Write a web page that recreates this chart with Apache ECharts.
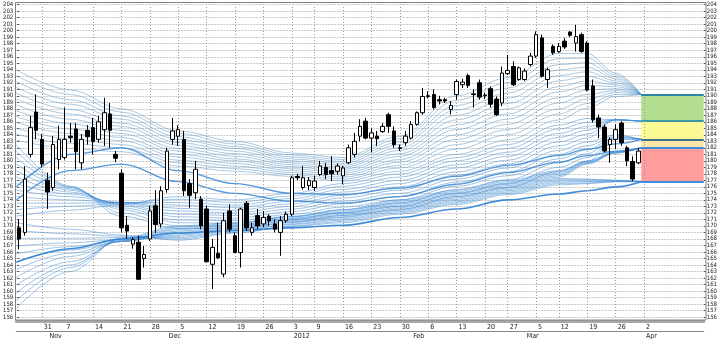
<!DOCTYPE html>
<html><head><meta charset="utf-8">
<script src="https://cdn.jsdelivr.net/npm/echarts@6/dist/echarts.min.js"></script>
<style>html,body{margin:0;padding:0;background:#fff}#c{width:720px;height:340px}</style>
</head><body><div id="c"></div>
<script>
// ---- categories (trading days) ----
const dates = [
'2011-10-25','2011-10-26','2011-10-27','2011-10-28','2011-10-31','2011-11-01','2011-11-02','2011-11-03',
'2011-11-07','2011-11-08','2011-11-09','2011-11-10','2011-11-11',
'2011-11-14','2011-11-15','2011-11-16','2011-11-17','2011-11-18',
'2011-11-21','2011-11-22','2011-11-23','2011-11-24','2011-11-25',
'2011-11-28','2011-11-29','2011-11-30','2011-12-01','2011-12-02',
'2011-12-05','2011-12-06','2011-12-07','2011-12-08','2011-12-09',
'2011-12-12','2011-12-13','2011-12-14','2011-12-15','2011-12-16',
'2011-12-19','2011-12-20','2011-12-21','2011-12-22','2011-12-23',
'2011-12-26','2011-12-27','2011-12-28','2011-12-29','2011-12-30',
'2012-01-03','2012-01-04','2012-01-05','2012-01-06',
'2012-01-09','2012-01-10','2012-01-11','2012-01-12','2012-01-13',
'2012-01-16','2012-01-17','2012-01-18','2012-01-19','2012-01-20',
'2012-01-23','2012-01-24','2012-01-25','2012-01-26','2012-01-27',
'2012-01-30','2012-01-31','2012-02-01','2012-02-02','2012-02-03',
'2012-02-06','2012-02-07','2012-02-08','2012-02-09','2012-02-10',
'2012-02-13','2012-02-14','2012-02-15','2012-02-16','2012-02-17',
'2012-02-20','2012-02-21','2012-02-22','2012-02-23',
'2012-02-27','2012-02-28','2012-02-29','2012-03-01','2012-03-02',
'2012-03-05','2012-03-06','2012-03-07','2012-03-08',
'2012-03-12','2012-03-13','2012-03-14','2012-03-15','2012-03-16',
'2012-03-19','2012-03-20','2012-03-21','2012-03-22','2012-03-23',
'2012-03-26','2012-03-27','2012-03-28','2012-03-29','2012-03-30',
'2012-04-02','2012-04-03','2012-04-04','2012-04-05','2012-04-06',
'2012-04-09','2012-04-10','2012-04-11','2012-04-12','2012-04-13','2012-04-16'];

// ---- candles ----
const opens  = [169.7,169.0,181.0,187.5,183.3,177.0,175.9,180.2,180.5,183.8,184.9,179.7,184.7,185.1,183.3,184.8,187.2,181.0,178.1,170.1,167.2,167.5,165.0,168.0,173.1,170.3,175.6,183.3,183.8,183.3,176.5,175.1,174.1,172.6,164.1,165.8,162.6,172.3,168.5,165.9,173.5,169.0,171.6,170.3,171.5,170.3,169.0,170.8,171.8,177.6,175.9,176.2,175.9,177.9,179.0,178.5,178.4,177.7,179.7,181.0,183.8,186.1,183.5,183.8,184.5,187.1,184.6,182.0,182.8,183.5,185.6,187.4,190.0,190.2,189.4,189.4,187.9,190.2,191.7,193.1,190.3,192.0,190.1,191.1,189.5,188.9,193.4,194.5,192.5,192.5,194.8,196.1,198.9,192.5,197.6,196.8,198.4,199.8,198.1,199.4,198.1,191.5,186.6,185.2,182.5,183.3,185.8,182.0,179.9,179.7];
const closes = [168.0,177.2,185.1,184.7,179.5,175.2,182.5,183.3,183.3,183.6,181.4,183.3,183.7,183.0,186.0,187.4,184.7,180.4,169.7,169.2,167.9,161.8,165.6,172.3,170.2,175.4,181.5,184.6,184.8,175.4,174.7,178.7,170.0,164.5,166.7,165.1,170.8,169.5,165.9,172.6,169.7,169.7,170.0,171.3,170.8,169.5,170.8,171.8,177.4,177.4,177.4,177.0,176.9,179.2,177.9,178.0,179.2,178.9,182.0,183.0,185.3,183.5,184.3,183.4,185.3,185.3,182.5,181.9,183.8,185.6,187.4,189.9,189.9,188.2,189.2,189.2,188.5,192.2,192.1,191.6,190.2,189.8,190.0,188.7,187.1,193.5,193.9,191.7,194.3,193.8,196.1,199.4,193.0,194.0,196.6,197.6,197.5,199.3,199.1,196.8,190.9,186.3,185.2,181.5,183.3,184.8,182.8,180.0,177.2,181.5];
const lows   = [166.4,168.5,180.5,183.3,179.0,172.6,175.4,178.7,180.2,182.8,178.7,178.7,182.5,181.0,182.8,182.3,182.0,179.8,169.0,168.0,166.5,161.8,163.6,167.7,168.9,169.7,175.1,182.5,182.3,174.6,172.8,174.1,169.5,164.4,160.3,164.9,162.1,169.0,165.9,163.6,169.2,168.5,169.5,169.8,170.0,169.0,165.4,170.5,171.5,177.0,175.6,175.5,175.4,177.7,177.2,176.9,177.9,176.4,179.5,180.5,183.0,183.3,181.3,182.3,184.3,184.3,182.0,181.5,182.3,183.3,185.4,187.1,189.6,187.9,188.7,188.9,187.1,189.4,191.2,191.2,188.2,189.4,189.5,188.2,186.9,188.4,193.2,191.5,192.3,192.3,194.5,195.8,192.8,191.2,196.3,196.6,197.2,199.0,196.8,196.6,190.7,185.9,183.5,181.3,179.7,181.8,182.3,179.2,176.9,179.5];
const highs  = [171.0,179.2,186.9,190.2,184.1,178.2,183.8,185.4,188.2,185.8,185.8,184.1,185.5,186.6,186.9,189.7,188.9,181.5,178.7,171.5,168.3,168.5,166.9,173.1,175.5,176.1,182.0,186.6,185.5,184.6,177.2,180.0,174.6,173.1,168.0,170.5,172.0,173.3,169.0,172.8,173.8,170.5,172.6,172.3,171.8,171.0,171.5,172.2,177.7,178.0,179.2,177.5,177.7,180.0,179.7,180.7,179.6,179.2,182.5,184.3,186.4,186.6,185.0,184.6,185.8,187.4,185.3,182.5,184.6,186.1,187.6,191.2,190.7,191.0,190.0,189.7,189.2,192.5,192.6,193.4,191.0,192.5,190.5,191.4,189.9,194.5,196.3,195.3,194.5,194.2,196.6,199.9,199.4,194.3,197.9,198.1,198.9,199.9,200.9,199.7,198.4,192.5,187.1,185.6,183.6,185.6,186.1,182.3,180.7,182.0];

// ---- axis ticks ----
const weekTickIdx = [4,8,13,18,23,28,33,38,43,48,52,57,62,67,72,77,82,86,91,95,100,105,110];
const weekTickLabels = ['31','7','14','21','28','5','12','19','26','3','9','16','23','30','6','13','20','27','5','12','19','26','2'];
const monthTickIdx = [5,26,48,69,89,110];
const monthLabels = ['Nov','Dec','2012','Feb','Mar','Apr'];

// ---- fan lines (values read at these day positions) ----
const fanCols = [-0.5,9,18,28,38,48,57,67,77,86,95,100,105,109.5];
const fanTop = [
[194.0,190.9,188.0,184.6,183.0,181.2,180.5,183.8,190.0,192.8,196.5,196.5,193.5,190.2],
[193.1,190.2,187.5,184.2,182.6,180.9,180.2,183.4,189.3,192.0,195.7,195.8,193.2,190.2],
[192.2,189.4,186.9,183.7,182.2,180.6,179.9,182.9,188.5,191.2,194.8,195.1,192.9,190.2],
[191.3,188.7,186.4,183.3,181.9,180.3,179.6,182.5,187.8,190.4,194.0,194.4,192.6,190.2],
[190.4,187.9,185.8,182.8,181.5,180.0,179.3,182.0,187.0,189.6,193.1,193.7,192.3,190.2],
[189.5,187.2,185.3,182.4,181.1,179.7,179.0,181.6,186.3,188.8,192.3,193.0,192.0,190.2],
[188.6,186.4,184.7,181.9,180.7,179.4,178.7,181.1,185.5,188.0,191.4,192.3,191.7,190.2],
[187.7,185.7,184.2,181.5,180.3,179.1,178.4,180.7,184.8,187.2,190.6,191.6,191.4,190.2],
[186.8,184.9,183.6,181.0,180.0,178.8,178.1,180.2,184.0,186.4,189.7,190.9,191.1,190.2],
[185.9,184.2,183.1,180.6,179.6,178.5,177.8,179.8,183.3,185.6,188.9,190.2,190.8,190.2],
[185.0,183.4,182.5,180.1,179.2,178.2,177.5,179.3,182.5,184.8,188.0,189.5,190.5,190.2],
[184.1,182.7,182.0,179.7,178.8,177.9,177.2,178.9,181.8,184.0,187.2,188.8,190.2,190.2],
[183.2,181.9,181.4,179.2,178.4,177.6,176.9,178.4,181.0,183.2,186.3,188.1,189.9,190.2]];
const fanMid = [
[182.5,176.1,171.5,169.6,169.6,170.6,171.6,172.5,174.5,175.9,178.4,179.9,183.3,183.3],
[181.5,176.0,172.0,170.0,170.0,171.0,172.0,173.0,175.0,176.5,179.0,180.5,183.4,183.3],
[180.5,175.9,172.5,170.5,170.4,171.4,172.5,173.5,175.6,177.1,179.7,181.1,183.6,183.3],
[179.5,175.7,172.8,170.9,170.8,171.8,172.9,174.0,176.1,177.7,180.3,181.7,183.7,183.3],
[178.5,175.5,173.1,171.4,171.2,172.2,173.4,174.5,176.7,178.3,181.0,182.3,183.9,183.3],
[177.5,175.2,173.3,171.8,171.6,172.6,173.8,175.0,177.2,178.9,181.6,182.9,184.0,183.3],
[176.5,174.9,173.5,172.3,172.0,173.0,174.3,175.5,177.8,179.5,182.3,183.5,186.3,186.1],
[175.5,174.5,173.6,172.7,172.4,173.4,174.7,176.0,178.3,180.1,182.9,184.1,186.3,186.1],
[174.5,174.0,173.6,173.2,172.8,173.8,175.2,176.5,178.9,180.7,183.6,184.7,186.3,186.1],
[173.5,173.5,173.6,173.6,173.2,174.2,175.6,177.0,179.4,181.3,184.2,185.3,186.3,186.1],
[172.5,173.0,173.5,174.1,173.6,174.6,176.1,177.5,180.0,181.9,184.9,185.9,186.3,186.1],
[171.5,172.4,173.3,174.5,174.0,175.0,176.5,178.0,180.5,182.5,185.5,186.5,186.3,186.1]];
const fanLow = [
[170.5,169.5,168.6,167.8,168.9,169.9,170.5,171.8,173.3,174.8,176.3,176.5,176.8,176.8],
[169.3,168.8,168.4,168.0,169.0,170.0,170.7,172.0,173.5,175.0,176.5,176.6,176.8,176.8],
[168.1,168.1,168.2,168.2,169.2,170.2,170.9,172.2,173.7,175.2,176.7,176.8,176.9,176.8],
[166.9,167.4,167.9,168.4,169.3,170.3,171.1,172.4,173.9,175.4,176.9,176.9,176.9,176.8],
[165.7,166.8,167.7,168.6,169.5,170.5,171.3,172.6,174.1,175.6,177.1,177.1,177.0,176.8],
[164.5,166.3,167.6,168.8,169.6,170.6,171.4,172.8,174.3,175.8,177.3,177.2,177.0,176.8],
[163.3,165.8,167.6,169.0,169.8,170.8,171.6,173.0,174.5,176.0,177.5,179.5,181.2,182.0],
[162.1,165.3,167.6,169.2,169.9,170.9,171.8,173.2,174.7,176.2,177.7,179.6,181.2,182.0],
[160.9,164.5,167.7,169.4,170.1,171.1,172.0,173.4,174.9,176.4,177.9,179.7,181.3,182.0],
[159.7,164.0,167.8,169.6,170.2,171.2,172.1,173.6,175.1,176.6,178.1,179.8,181.3,182.0],
[158.5,163.6,168.0,169.8,170.4,171.4,172.3,173.8,175.3,176.8,178.3,179.9,181.4,182.0],
[157.3,163.0,168.1,170.0,170.5,171.5,172.5,174.0,175.5,177.0,178.5,180.0,181.4,182.0]];
const bandLow  = [164.4,166.5,168.0,168.9,169.3,169.7,170.1,171.3,172.6,174.0,174.9,175.4,176.0,176.8];
const bandUpA  = [176.0,181.0,182.0,178.5,176.5,175.0,174.8,175.8,177.6,179.3,180.8,181.8,182.6,183.3];
const bandUpB  = [174.0,178.5,179.5,176.8,175.0,173.8,173.5,174.5,176.4,178.2,179.8,180.8,181.5,182.0];

// ---- target zones (right) ----
const zoneLevels = [190.2,186.1,183.3,182.0,176.8];
const zoneFill = ['#b3de8f','#fbfa95','#fde7a8','#ff9c9c'];
const zoneLine = ['#2b86a8','#3a9aa8','#3f6f8c','#3a8ee0','#3a8ee0'];
const zoneStart = 109.5, zoneEnd = 120.5;
const markerValue = 182.5;

const weekSet = new Set(weekTickIdx);
const monthSet = new Set(monthTickIdx);
const candleData = opens.map((o,i)=>[o, closes[i], lows[i], highs[i]]);

function fan(rows, color, width, z){
  return rows.map(r=>({type:'line', xAxisIndex:2, yAxisIndex:0, silent:true, z:z,
    data:r.map((v,i)=>[fanCols[i], v]), smooth:0.35, smoothMonotone:'x', symbol:'none',
    lineStyle:{color:color, width:width}}));
}

const series = [];
series.push({type:'line', xAxisIndex:2, yAxisIndex:0, data:[], silent:true, z:1,
  markLine:{silent:true, symbol:'none', label:{show:false},
    lineStyle:{color:'#9a9a9a', type:[1,2], width:1},
    data: weekTickIdx.map(i=>({xAxis:i}))}});
const areas = [];
for (let k=0;k<zoneFill.length;k++){
  areas.push([{xAxis:zoneStart, yAxis:zoneLevels[k], itemStyle:{color:zoneFill[k]}},{xAxis:zoneEnd, yAxis:zoneLevels[k+1]}]);
}
series.push({type:'line', xAxisIndex:2, yAxisIndex:0, data:[], silent:true, z:2,
  markArea:{silent:true, data:areas},
  markLine:{silent:true, symbol:'none', animation:false,
    data: zoneLevels.map((v,k)=>[{xAxis:zoneStart, yAxis:v, lineStyle:{color:zoneLine[k], width:2, type:'solid'}, label:{show:false}},{xAxis:zoneEnd, yAxis:v}]).concat([
      {yAxis:markerValue, lineStyle:{opacity:0}, label:{show:true, position:'end', distance:1, formatter:String(markerValue), fontSize:6, color:'#222', backgroundColor:'#fff', borderColor:'#444', borderWidth:1, padding:[1,1,0,1]}}])}});
fan(fanTop, 'rgba(80,145,195,0.7)', 0.7, 3).forEach(s=>series.push(s));
fan(fanMid, 'rgba(55,135,210,0.7)', 0.7, 3).forEach(s=>series.push(s));
fan(fanLow, 'rgba(55,135,210,0.7)', 0.7, 3).forEach(s=>series.push(s));
fan([bandLow], 'rgba(42,127,212,0.9)', 1.6, 4).forEach(s=>series.push(s));
fan([bandUpA, bandUpB], 'rgba(42,127,212,0.8)', 1.3, 4).forEach(s=>series.push(s));
series.push({type:'candlestick', xAxisIndex:0, yAxisIndex:0, data:candleData, barWidth:4, z:6,
  itemStyle:{color:'#ffffff', color0:'#000000', borderColor:'#000000', borderColor0:'#000000', borderWidth:1}});

const lblFont = 'Liberation Sans Narrow, DejaVu Sans Condensed, Liberation Sans';
const option = {
  animation:false,
  textStyle:{fontFamily:lblFont},
  grid:{left:16, right:14, top:4.7, height:313.3},
  xAxis:[
    {type:'category', position:'bottom', data:dates, boundaryGap:true, offset:4,
     axisLine:{lineStyle:{color:'#a8a8a8', width:3}},
     axisTick:{alignWithLabel:true, interval:(i)=>weekSet.has(i), length:9, lineStyle:{color:'#555'}},
     axisLabel:{interval:(i)=>weekSet.has(i), formatter:(v,i)=>weekTickLabels[weekTickIdx.indexOf(i)],
       align:'left', fontSize:7, margin:3, color:'#222', padding:[0,0,0,2], fontFamily:lblFont},
     splitLine:{show:false}},
    {type:'category', position:'bottom', data:dates, boundaryGap:true, offset:14,
     axisLine:{lineStyle:{color:'#888', width:1}},
     axisTick:{alignWithLabel:true, interval:(i)=>monthSet.has(i), length:8, lineStyle:{color:'#555'}},
     axisLabel:{interval:(i)=>monthSet.has(i), formatter:(v,i)=>monthLabels[monthTickIdx.indexOf(i)],
       align:'left', fontSize:7, margin:2, color:'#222', padding:[0,0,0,2], fontFamily:lblFont},
     splitLine:{show:false}},
    {type:'value', position:'bottom', min:-0.5, max:120.5, show:false}
  ],
  yAxis:[
    {type:'value', min:156, max:204, interval:1, position:'left',
     axisLine:{show:false}, axisTick:{show:true, length:2, lineStyle:{color:'#555'}},
     axisLabel:{fontSize:6, margin:3, color:'#222', fontFamily:lblFont},
     splitLine:{show:true, lineStyle:{color:'#c8c8c8', type:[2,1], width:1}}},
    {type:'value', min:156, max:204, interval:1, position:'right',
     axisLine:{show:false}, axisTick:{show:true, length:2, lineStyle:{color:'#555'}},
     axisLabel:{fontSize:6, margin:3, color:'#222', fontFamily:lblFont},
     splitLine:{show:false}}
  ],
  graphic:[{type:'rect', z:100, silent:true, shape:{x:15.5, y:2.5, width:690.5, height:317.5},
     style:{fill:null, stroke:'#808080', lineWidth:1}}],
  series:series
};
const chart = echarts.init(document.getElementById('c'), null, {renderer:'canvas'});
chart.setOption(option);
</script></body></html>
